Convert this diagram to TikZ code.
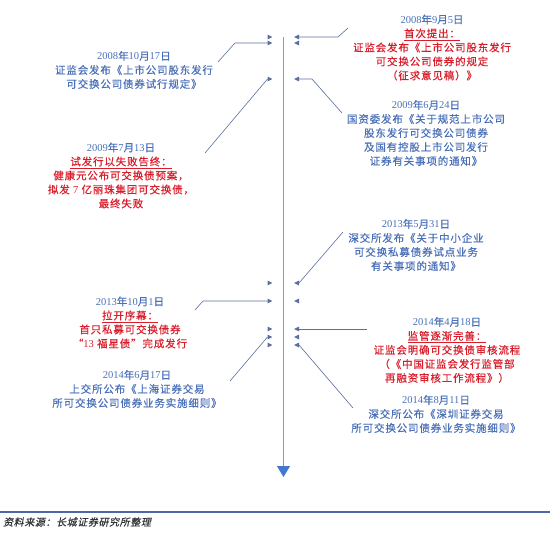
\documentclass[tikz,border=0pt]{standalone}
\usepackage{fontspec}
\setmainfont{Liberation Serif}
\newfontfamily\cjk[LetterSpace=8,FakeBold=0.5]{Noto Sans CJK SC}
\newfontfamily\cjkslant[FakeSlant=0.2,LetterSpace=6,FakeBold=0.5]{Noto Sans CJK SC}
\usepackage{tikz}
\usetikzlibrary{calc, arrows.meta}
\definecolor{datblue}{HTML}{4A70B8}
\definecolor{evred}{HTML}{D91E2B}
\definecolor{mkgray}{HTML}{5C6E9E}
\definecolor{axgray}{HTML}{8A9ABA}
\definecolor{tipblue}{HTML}{4478D0}
\definecolor{rulecol}{HTML}{4A68A6}
\newcommand{\ymd}[3]{{\rmfamily #1}年{\rmfamily #2}月{\rmfamily #3}日}

\begin{document}
\begin{tikzpicture}[x=1pt, y=-1pt,
  evt/.style={align=center, inner sep=0pt, font=\fontsize{10.5}{14}\selectfont\cjk},
  lead/.style={mkgray, line width=0.6pt}]
  \useasboundingbox (0,0) rectangle (550,536);
  % Time axis
  \coordinate (top) at (283.5,37);
  \coordinate (bot) at (283.5,477);
  \draw[axgray, line width=0.9pt, -{Triangle[width=13pt,length=11pt,color=tipblue]}] (top) -- (bot);
  % Markers on both sides
  \foreach \y [count=\i] in {37,43,79,283,301,329,337,345}{
    \coordinate (L\i) at (267.5,\y);
    \coordinate (R\i) at (299,\y);
    \fill[mkgray] (L\i) ++(0,-2.4) -- ++(4.8,2.4) -- ++(-4.8,2.4) -- cycle;
    \fill[mkgray] (R\i) ++(0,-2.4) -- ++(-4.8,2.4) -- ++(4.8,2.4) -- cycle;
  }
  % Events, right side
  \node[evt, text=evred] (sep08) at (432,47.5)
    {\textcolor{datblue}{\ymd{2008}{9}{5}}\\\underline{首次提出：}\\证监会发布《上市公司股东发行\\可交换公司债券的规定\\（征求意见稿）》};
  \node[evt, text=datblue] (jun09) at (426,133)
    {\ymd{2009}{6}{24}\\国资委发布《关于规范上市公司\\股东发行可交换公司债券\\及国有控股上市公司发行\\证券有关事项的通知》};
  \node[evt, text=datblue] (may13) at (416,245)
    {\ymd{2013}{5}{31}\\深交所发布《关于中小企业\\可交换私募债券试点业务\\有关事项的通知》};
  \node[evt, text=evred] (apr14) at (447,350)
    {\textcolor{datblue}{\ymd{2014}{4}{18}}\\\underline{监管逐渐完善：}\\证监会明确可交换债审核流程\\（《中国证监会发行监管部\\再融资审核工作流程》）};
  \node[evt, text=datblue] (aug14) at (436,414)
    {\ymd{2014}{8}{11}\\深交所公布《深圳证券交易\\所可交换公司债券业务实施细则》};
  % Events, left side
  \node[evt, text=datblue] (oct08) at (134,70)
    {\ymd{2008}{10}{17}\\证监会发布《上市公司股东发行\\可交换公司债券试行规定》};
  \node[evt, text=evred] (jul09) at (121,175.5)
    {\textcolor{datblue}{\ymd{2009}{7}{13}}\\\underline{试发行以失败告终：}\\健康元公布可交换债预案，\\拟发 {\rmfamily 7} 亿丽珠集团可交换债，\\最终失败};
  \node[evt, text=evred] (oct13) at (130,322.5)
    {\textcolor{datblue}{\ymd{2013}{10}{1}}\\\underline{拉开序幕：}\\首只私募可交换债券\\“{\rmfamily 13} 福星债”完成发行};
  \node[evt, text=datblue] (jun14) at (137,389)
    {\ymd{2014}{6}{17}\\上交所公布《上海证券交易\\所可交换公司债券业务实施细则》};
  % Leader lines
  \coordinate (e1) at (348,28);
  \coordinate (e2) at (218,62);
  \coordinate (e3) at (342,113);
  \coordinate (e4) at (205,153);
  \coordinate (e5) at (343,232);
  \coordinate (e6) at (195,310);
  \coordinate (e7) at (230,381);
  \coordinate (e8) at (367,329);
  \coordinate (e9) at (353,408);
  \draw[lead] (R1) -- ++(39,0) -- (e1);
  \draw[lead] (L2) -- ++(-32.5,0) -- (e2);
  \draw[lead] (R3) -- ++(13,0) -- (e3);
  \draw[lead] (L3) -- (e4);
  \draw[lead] (R4) -- (e5);
  \draw[lead] (L5) -- ++(-64.5,0) -- (e6);
  \draw[lead] (L7) -- (e7);
  \draw[lead] (R6) -- (e8);
  \draw[lead] (R8) -- (e9);
  % Source line
  \draw[rulecol, line width=1.2pt] (0,512) -- (550,512);
  \node[anchor=west, inner sep=0pt, text=black!80, font=\fontsize{10}{12}\selectfont\cjkslant] (src) at (3,522)
    {资料来源：长城证券研究所整理};
\end{tikzpicture}
\end{document}
